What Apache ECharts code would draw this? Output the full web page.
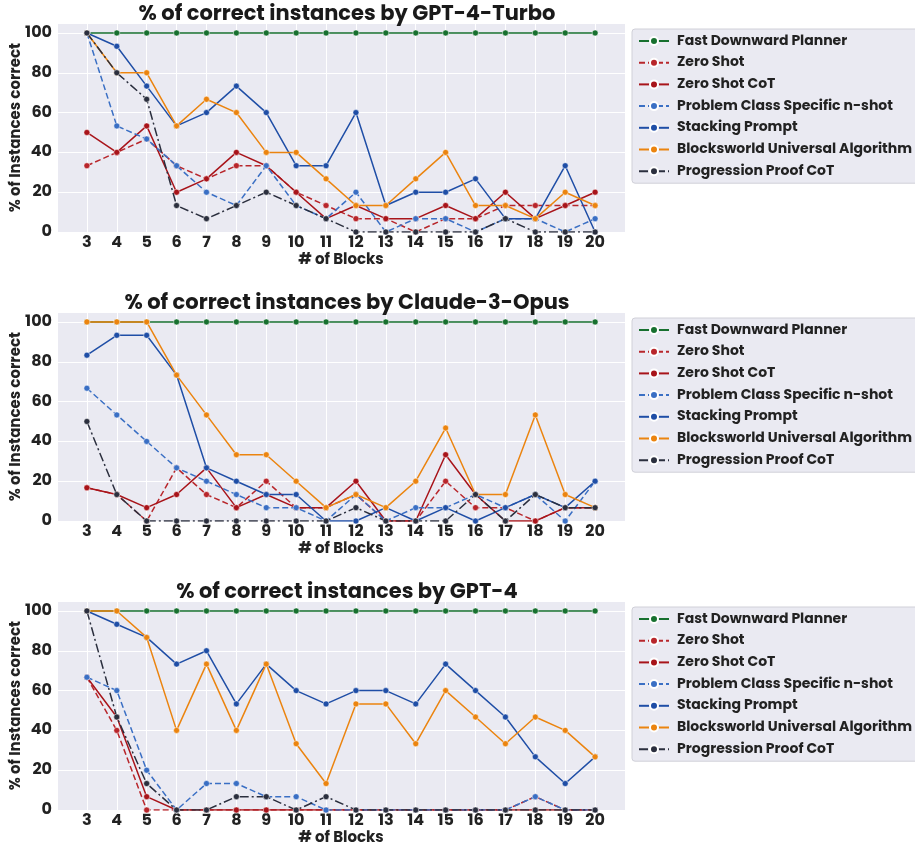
<!DOCTYPE html>
<html>
<head>
<meta charset="utf-8">
<script src="https://cdn.jsdelivr.net/npm/echarts@6/dist/echarts.min.js"></script>
<style>html,body{margin:0;padding:0;background:#fff}#c{width:915px;height:845px}</style>
</head>
<body>
<div id="c"></div>
<script>
const blocks = [3,4,5,6,7,8,9,10,11,12,13,14,15,16,17,18,19,20];
const seriesNames = ["Fast Downward Planner","Zero Shot","Zero Shot CoT","Problem Class Specific n-shot","Stacking Prompt","Blocksworld Universal Algorithm","Progression Proof CoT"];
const panelTitles = ["% of correct instances by GPT-4-Turbo","% of correct instances by Claude-3-Opus","% of correct instances by GPT-4"];
const yTicks = [0,20,40,60,80,100];

// GPT-4-Turbo
const turboFastDownward = [100,100,100,100,100,100,100,100,100,100,100,100,100,100,100,100,100,100];
const turboZeroShot     = [33.3,40,46.7,33.3,26.7,33.3,33.3,20,13.3,6.7,6.7,0,6.7,6.7,13.3,13.3,13.3,13.3];
const turboZeroShotCoT  = [50,40,53.3,20,26.7,40,33.3,20,6.7,13.3,6.7,6.7,13.3,6.7,20,6.7,13.3,20];
const turboProblemClass = [100,53.3,46.7,33.3,20,13.3,33.3,13.3,6.7,20,0,6.7,6.7,0,6.7,6.7,0,6.7];
const turboStacking     = [100,93.3,73.3,53.3,60,73.3,60,33.3,33.3,60,13.3,20,20,26.7,6.7,6.7,33.3,0];
const turboBlocksworld  = [100,80,80,53.3,66.7,60,40,40,26.7,13.3,13.3,26.7,40,13.3,13.3,6.7,20,13.3];
const turboProgression  = [100,80,66.7,13.3,6.7,13.3,20,13.3,6.7,0,0,0,0,0,6.7,0,0,0];

// Claude-3-Opus
const opusFastDownward = [100,100,100,100,100,100,100,100,100,100,100,100,100,100,100,100,100,100];
const opusZeroShot     = [16.7,13.3,0,26.7,13.3,6.7,20,6.7,6.7,13.3,0,0,20,6.7,6.7,0,6.7,6.7];
const opusZeroShotCoT  = [16.7,13.3,6.7,13.3,26.7,6.7,13.3,6.7,6.7,20,0,0,33.3,13.3,0,0,6.7,6.7];
const opusProblemClass = [66.7,53.3,40,26.7,20,13.3,6.7,6.7,0,13.3,0,6.7,6.7,13.3,6.7,13.3,0,20];
const opusStacking     = [83.3,93.3,93.3,73.3,26.7,20,13.3,13.3,0,0,6.7,0,6.7,0,6.7,13.3,6.7,20];
const opusBlocksworld  = [100,100,100,73.3,53.3,33.3,33.3,20,6.7,13.3,6.7,20,46.7,13.3,13.3,53.3,13.3,6.7];
const opusProgression  = [50,13.3,0,0,0,0,0,0,0,6.7,0,0,0,13.3,0,13.3,6.7,6.7];

// GPT-4
const gpt4FastDownward = [100,100,100,100,100,100,100,100,100,100,100,100,100,100,100,100,100,100];
const gpt4ZeroShot     = [66.7,40,0,0,0,0,0,0,0,0,0,0,0,0,0,6.7,0,0];
const gpt4ZeroShotCoT  = [66.7,46.7,6.7,0,0,0,0,0,0,0,0,0,0,0,0,0,0,0];
const gpt4ProblemClass = [66.7,60,20,0,13.3,13.3,6.7,6.7,0,0,0,0,0,0,0,6.7,0,0];
const gpt4Stacking     = [100,93.3,86.7,73.3,80,53.3,73.3,60,53.3,60,60,53.3,73.3,60,46.7,26.7,13.3,26.7];
const gpt4Blocksworld  = [100,100,86.7,40,73.3,40,73.3,33.3,13.3,53.3,53.3,33.3,60,46.7,33.3,46.7,40,26.7];
const gpt4Progression  = [100,46.7,13.3,0,0,6.7,6.7,0,6.7,0,0,0,0,0,0,0,0,0];

const panels = [
  [turboFastDownward,turboZeroShot,turboZeroShotCoT,turboProblemClass,turboStacking,turboBlocksworld,turboProgression],
  [opusFastDownward,opusZeroShot,opusZeroShotCoT,opusProblemClass,opusStacking,opusBlocksworld,opusProgression],
  [gpt4FastDownward,gpt4ZeroShot,gpt4ZeroShotCoT,gpt4ProblemClass,gpt4Stacking,gpt4Blocksworld,gpt4Progression]
];

const colors = ['#17702f','#b8262b','#a8141a','#3a6fc4','#1f4ea6','#eb840f','#2b2f3e'];
const lineTypes = ['solid',[6,3],'solid',[6,3],'solid','solid',[9,3,2,3]];

const FONT = 'Poppins, Inter, "Noto Sans", sans-serif';
const gridTops = [23, 312, 601];
const gridH = 209;
const gridLeft = 57, gridW = 568;

const option = {
  animation: false,
  backgroundColor: '#ffffff',
  title: [], grid: [], xAxis: [], yAxis: [], legend: [], series: []
};

panels.forEach((p, gi) => {
  const top = gridTops[gi];
  option.title.push({
    text: panelTitles[gi], left: gridLeft + gridW/2 + 1, top: top - 24, textAlign: 'center',
    textStyle: {fontFamily: FONT, fontSize: 21, fontWeight: 'bold', color: '#1a1a1a'}
  });
  option.grid.push({
    left: gridLeft, top: top, width: gridW, height: gridH,
    show: true, backgroundColor: '#eaeaf2', borderWidth: 0,
    containLabel: false, outerBoundsMode: 'none'
  });
  option.xAxis.push({
    type: 'value', gridIndex: gi, min: 2, max: 21, interval: 1,
    name: '# of Blocks', nameLocation: 'middle', nameGap: 21,
    nameTextStyle: {fontFamily: FONT, fontSize: 15, fontWeight: 'bold', color: '#222'},
    axisLine: {show: false}, axisTick: {show: false},
    axisLabel: {fontFamily: FONT, fontSize: 16, fontWeight: 'bold', color: '#222', margin: 3,
      formatter: v => (blocks.indexOf(v) >= 0 ? String(v) : '')},
    splitLine: {show: true, lineStyle: {color: '#ffffff', width: 1}}
  });
  option.yAxis.push({
    type: 'value', gridIndex: gi, min: 0, max: 105, interval: 20,
    name: '% of Instances correct', nameLocation: 'middle', nameGap: 33, nameRotate: 90,
    nameMoveOverlap: false,
    nameTextStyle: {fontFamily: FONT, fontSize: 15, fontWeight: 'bold', color: '#222'},
    axisLine: {show: false}, axisTick: {show: false},
    axisLabel: {fontFamily: FONT, fontSize: 16, fontWeight: 'bold', color: '#222', margin: 5,
      formatter: v => (yTicks.indexOf(v) >= 0 ? String(v) : '')},
    splitLine: {show: true, lineStyle: {color: '#ffffff', width: 1}}
  });
  option.legend.push({
    data: seriesNames, orient: 'vertical', left: 632, top: top + 6,
    width: 281, itemWidth: 30, itemHeight: 10, itemGap: 7.7,
    backgroundColor: '#eaeaf2', borderColor: '#d0d0d8', borderWidth: 1, borderRadius: 3,
    padding: [5, 14, 5, 6],
    textStyle: {fontFamily: FONT, fontSize: 14, fontWeight: 'bold', color: '#222', padding: [0,0,0,3]}
  });
  p.forEach((vals, si) => {
    option.series.push({
      name: seriesNames[si], type: 'line', xAxisIndex: gi, yAxisIndex: gi,
      data: blocks.map((b, i) => [b, vals[i]]),
      symbol: 'circle', symbolSize: 6, showSymbol: true,
      lineStyle: {color: colors[si], width: 1.5, type: lineTypes[si]},
      itemStyle: {color: colors[si], borderColor: '#ffffff', borderWidth: 0.5},
      z: 2 + si
    });
  });
});

const chart = echarts.init(document.getElementById('c'), null, {renderer: 'canvas'});
chart.setOption(option);
</script>
</body>
</html>
